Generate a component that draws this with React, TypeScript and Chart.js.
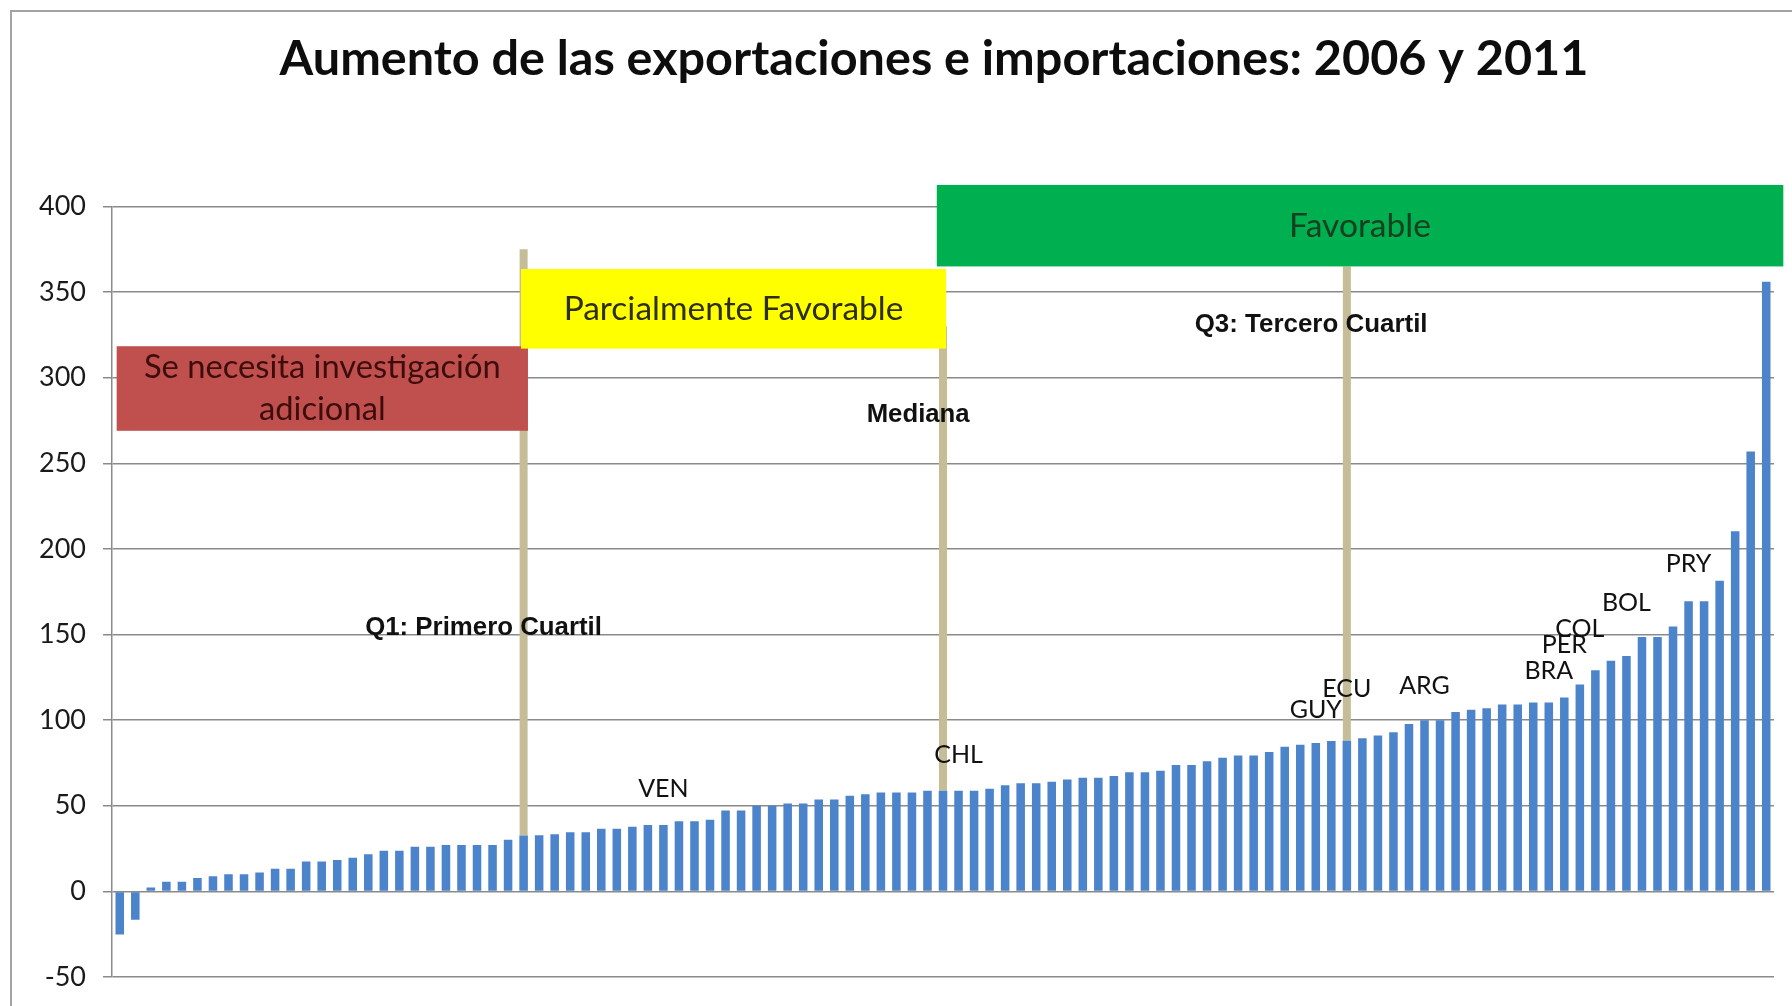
import React, { useEffect, useRef } from "react";
import { Chart, registerables } from "chart.js";

Chart.register(...registerables);

// ---------- DATA ----------
const TITLE = "Aumento de las exportaciones e importaciones: 2006 y 2011";

const values: number[] = [
  -25.2, -16.5, 2.3, 5.6, 5.6, 7.8, 8.9, 10, 10, 11,
  13.2, 13.2, 17.4, 17.4, 18.4, 19.6, 21.7, 23.8, 23.8, 26,
  26, 27.1, 27.1, 27.1, 27.1, 30.2, 32.6, 32.8, 33.3, 34.5,
  34.5, 36.6, 36.6, 37.8, 38.8, 38.8, 40.9, 40.9, 41.9, 47.3,
  47.3, 50, 50, 51.4, 51.4, 53.7, 53.7, 55.8, 56.8, 57.8,
  57.8, 57.8, 58.8, 58.8, 58.8, 58.8, 59.9, 62, 63.2, 63.2,
  64.1, 65.3, 66.3, 66.3, 67.4, 69.6, 69.6, 70.5, 73.8, 73.8,
  76, 78.1, 79.3, 79.3, 81.4, 84.5, 85.7, 86.7, 87.8, 88,
  89.4, 91.1, 93, 97.8, 100, 100, 104.7, 106.1, 106.9, 109.2,
  109.2, 110.3, 110.3, 113.3, 120.8, 129.2, 134.7, 137.5, 148.6, 148.6,
  154.7, 169.4, 169.4, 181.4, 210.3, 256.9, 356.1,
];

const countryCodes = ["VEN", "CHL", "GUY", "ECU", "ARG", "BRA", "PER", "COL", "BOL", "PRY"];
const countryIndex = [35, 54, 77, 79, 84, 92, 93, 94, 97, 101];
const countryLabelValue = [59.9, 79.8, 106, 118.5, 120.2, 129, 144, 153.4, 168.2, 191];

const Y_MIN = -50;
const Y_MAX = 400;
const Y_STEP = 50;

const quartileNames = ["Q1: Primero Cuartil", "Mediana", "Q3: Tercero Cuartil"];
const quartileIndex = [26, 53, 79];
const quartileLineTop = [375, 330, 365];
const quartileTextIndex = [23.42, 51.4, 76.7];
const quartileTextValue = [154, 278, 331];

const zoneLines = [["Se necesita investigación", "adicional"], ["Parcialmente Favorable"], ["Favorable"]];
const zoneFrom = [-0.2, 25.83, 52.6];
const zoneTo = [26.28, 53.2, 107.1];
const zoneBottom = [269, 317, 365];
const zoneTop = [318.4, 363.5, 412.6];

// categories: country code where known, blank elsewhere
const categories: string[] = values.map((_, i) => {
  const k = countryIndex.indexOf(i);
  return k >= 0 ? countryCodes[k] : "";
});

// ---------- STYLE ----------
const BAR_COLOR = "#4C84CB";
const LINE_COLOR = "#C4BD97";
const GRID_COLOR = "#8a8a8a";
const ZONE_COLORS = ["#C0504D", "#FFFF00", "#00B050"];
const ZONE_TEXT_COLORS = ["#3d0d0d", "#2e2e10", "#17401f"];
const ZONE_TEXT_WIDTHS = [357, 340, 142];
const QUARTILE_TEXT_WIDTHS = [237, 103, 233];

function fitSize(ctx: CanvasRenderingContext2D, text: string, weight: string, family: string, w: number) {
  ctx.font = `${weight} 100px ${family}`;
  const m = ctx.measureText(text).width;
  return (100 * w) / m;
}

export default function App() {
  const ref = useRef<HTMLCanvasElement>(null);

  useEffect(() => {
    const canvas = ref.current;
    if (!canvas) return;

    const bgPlugin = {
      id: "bgFrame",
      beforeDraw(chart: any) {
        const ctx = chart.ctx as CanvasRenderingContext2D;
        ctx.save();
        ctx.fillStyle = "#ffffff";
        ctx.fillRect(0, 0, chart.width, chart.height);
        ctx.strokeStyle = "#a3a3a3";
        ctx.lineWidth = 2;
        ctx.strokeRect(11, 11, chart.width + 40, chart.height + 40);
        // title
        const size = fitSize(ctx, TITLE, "bold", "Lato", 1309);
        ctx.font = `bold ${size}px Lato`;
        ctx.fillStyle = "#0d0d0d";
        ctx.textAlign = "center";
        ctx.textBaseline = "alphabetic";
        ctx.fillText(TITLE, 934, 75);
        ctx.restore();
      },
    };

    const quartileLinesPlugin = {
      id: "quartileLines",
      beforeDatasetsDraw(chart: any) {
        const ctx = chart.ctx as CanvasRenderingContext2D;
        const xs = chart.scales.x;
        const ys = chart.scales.y;
        ctx.save();
        ctx.strokeStyle = LINE_COLOR;
        ctx.lineWidth = 8;
        quartileIndex.forEach((idx, i) => {
          const x = xs.getPixelForValue(idx);
          ctx.beginPath();
          ctx.moveTo(x, ys.getPixelForValue(values[idx]));
          ctx.lineTo(x, ys.getPixelForValue(quartileLineTop[i]));
          ctx.stroke();
        });
        ctx.restore();
      },
    };

    const overlayPlugin = {
      id: "overlay",
      afterDatasetsDraw(chart: any) {
        const ctx = chart.ctx as CanvasRenderingContext2D;
        const xs = chart.scales.x;
        const ys = chart.scales.y;
        ctx.save();
        // zone boxes
        zoneLines.forEach((lines, i) => {
          const x0 = xs.getPixelForValue(zoneFrom[i]);
          const x1 = xs.getPixelForValue(zoneTo[i]);
          const y0 = ys.getPixelForValue(zoneTop[i]);
          const y1 = ys.getPixelForValue(zoneBottom[i]);
          ctx.fillStyle = ZONE_COLORS[i];
          ctx.fillRect(x0, y0, x1 - x0, y1 - y0);
          const size = fitSize(ctx, lines[0], "normal", "Lato", ZONE_TEXT_WIDTHS[i]);
          ctx.font = `normal ${size}px Lato`;
          ctx.fillStyle = ZONE_TEXT_COLORS[i];
          ctx.textAlign = "center";
          ctx.textBaseline = "middle";
          const cx = (x0 + x1) / 2;
          const cy = (y0 + y1) / 2;
          const lh = 42.5;
          lines.forEach((t, j) => {
            ctx.fillText(t, cx, cy + (j - (lines.length - 1) / 2) * lh);
          });
        });
        // quartile texts
        quartileNames.forEach((t, i) => {
          const size = fitSize(ctx, t, "bold", "'Liberation Sans'", QUARTILE_TEXT_WIDTHS[i]);
          ctx.font = `bold ${size}px 'Liberation Sans'`;
          ctx.fillStyle = "#111111";
          ctx.textAlign = "center";
          ctx.textBaseline = "middle";
          ctx.fillText(t, xs.getPixelForValue(quartileTextIndex[i]), ys.getPixelForValue(quartileTextValue[i]));
        });
        // country labels
        ctx.font = "normal 25px Lato";
        ctx.fillStyle = "#111111";
        ctx.textAlign = "center";
        ctx.textBaseline = "middle";
        countryCodes.forEach((c, i) => {
          ctx.fillText(c, xs.getPixelForValue(countryIndex[i]), ys.getPixelForValue(countryLabelValue[i]));
        });
        ctx.restore();
      },
    };

    const chart = new Chart(canvas, {
      type: "bar",
      data: {
        labels: categories,
        datasets: [
          {
            label: "Aumento",
            data: values,
            backgroundColor: BAR_COLOR,
            borderWidth: 0,
            barPercentage: 0.55,
            categoryPercentage: 1.0,
          },
        ],
      },
      options: {
        responsive: false,
        animation: false,
        devicePixelRatio: 1,
        layout: { padding: { top: 206.5, right: 18, bottom: 29, left: 0 } },
        plugins: {
          legend: { display: false },
          tooltip: { enabled: false },
          title: { display: false },
        },
        scales: {
          x: {
            display: false,
            offset: true,
          },
          y: {
            min: Y_MIN,
            max: Y_MAX,
            ticks: {
              stepSize: Y_STEP,
              color: "#1a1a1a",
              font: { family: "Lato", size: 27 },
              padding: 17,
            },
            grid: {
              color: GRID_COLOR,
              lineWidth: 1.5,
              tickLength: 9,
              drawTicks: true,
            },
            border: { display: true, color: GRID_COLOR, width: 1.5 },
            afterFit: (s: any) => {
              s.width = 112;
              s.paddingTop = 0;
              s.paddingBottom = 0;
            },
          },
        },
      },
      plugins: [bgPlugin, quartileLinesPlugin, overlayPlugin],
    } as any);

    return () => chart.destroy();
  }, []);

  return (
    <div style={{ position: "absolute", left: 0, top: 0, width: 1792, height: 1006 }}>
      <canvas ref={ref} width={1792} height={1006} style={{ display: "block", width: 1792, height: 1006 }} />
    </div>
  );
}
